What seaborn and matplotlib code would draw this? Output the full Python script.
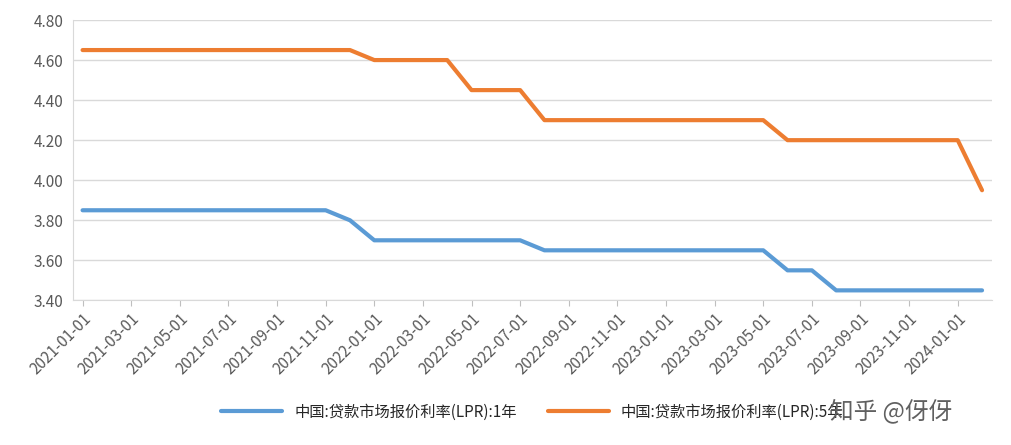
import matplotlib
matplotlib.use("Agg")
import matplotlib.pyplot as plt
import seaborn as sns
import pandas as pd

months = pd.date_range("2021-01-01", "2024-02-01", freq="MS").strftime("%Y-%m-%d").tolist()
lpr_1y = [3.85] * 11 + [3.80] + [3.70] * 7 + [3.65] * 10 + [3.55] * 2 + [3.45] * 7
lpr_5y = [4.65] * 12 + [4.60] * 4 + [4.45] * 3 + [4.30] * 10 + [4.20] * 8 + [3.95]
label_1y = "中国:贷款市场报价利率(LPR):1年"
label_5y = "中国:贷款市场报价利率(LPR):5年"


def main():
    sns.set_style("white")
    plt.rcParams["font.family"] = ["Noto Sans CJK SC", "DejaVu Sans"]
    fig, ax = plt.subplots(figsize=(10.12, 4.45), dpi=100)

    df = pd.DataFrame({"idx": range(len(months)), label_1y: lpr_1y, label_5y: lpr_5y})
    long = df.melt(id_vars="idx", var_name="series", value_name="rate")
    sns.lineplot(data=long, x="idx", y="rate", hue="series", ax=ax,
                 palette=["#5b9bd5", "#ed7d31"], linewidth=3)

    ax.set_ylim(3.40, 4.80)
    ax.set_yticks([3.40 + 0.2 * i for i in range(8)])
    ax.set_yticklabels([f"{3.40 + 0.2 * i:.2f}" for i in range(8)], fontsize=11, color="#595959")
    ax.set_xlim(-0.4, len(months) - 0.6)
    ticks = list(range(0, len(months), 2))
    ax.set_xticks(ticks)
    ax.set_xticklabels([months[i] for i in ticks], rotation=45, ha="right",
                       rotation_mode="anchor", fontsize=11, color="#595959")
    ax.grid(axis="y", color="#d9d9d9", linewidth=1)
    ax.tick_params(axis="x", length=4, color="#bfbfbf", direction="out", bottom=True)
    for s in ["top", "right"]:
        ax.spines[s].set_visible(False)
    ax.spines["left"].set_color("#d9d9d9")
    ax.spines["bottom"].set_color("#d9d9d9")
    ax.set_xlabel("")
    ax.set_ylabel("")
    ax.legend(loc="upper center", bbox_to_anchor=(0.5, -0.32), ncol=2, frameon=False,
              fontsize=11, handlelength=4, columnspacing=2)
    fig.text(0.82, 0.06, "知乎 @伢伢", fontsize=17, color="#606060")

    plt.subplots_adjust(left=0.072, right=0.98, top=0.955, bottom=0.325)
    fig.savefig("out.png")


if __name__ == "__main__":
    main()
